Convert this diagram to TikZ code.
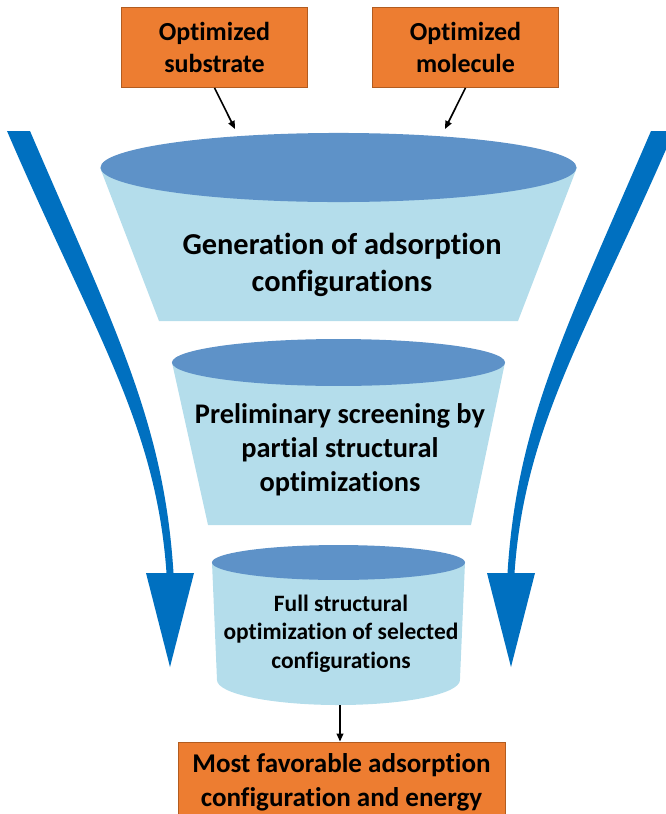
\documentclass[tikz,border=0pt]{standalone}
\usepackage{fontspec}
\setmainfont{Carlito}[Ligatures=NoCommon]
\usetikzlibrary{arrows.meta, calc, positioning}
\definecolor{inorange}{RGB}{237,125,49}
\definecolor{inorangeedge}{RGB}{178,92,32}
\definecolor{lidblue}{RGB}{94,146,200}
\definecolor{bodyblue}{RGB}{180,221,235}
\definecolor{flowblue}{RGB}{0,112,192}
\tikzset{
  >=Triangle,
  feed/.style={->, line width=1.2pt, black,
               shorten >=0pt, >={Triangle[length=6pt, width=5pt]}},
  obox/.style={fill=inorange, draw=inorangeedge, line width=0.6pt,
               align=center, inner sep=0pt, font=\bfseries},
  stagetext/.style={align=center, inner sep=0pt, font=\bfseries},
  flowarrow/.pic={
    % tapered shaft, then the wide head
    \fill[flowblue] (7,131) .. controls (93,331) and (156,423) .. (166.5,573)
      -- (173.5,573) .. controls (164,423) and (116,331) .. (30,131) -- cycle;
    \fill[flowblue] (146,573) -- (194,573) -- (170,667) -- cycle;
  },
}

\begin{document}
\begin{tikzpicture}[x=0.75pt, y=-0.75pt]
  \useasboundingbox (0,0) rectangle (665,814);

  % ---- Side flow arrows ----
  \pic at (0,0) {flowarrow};
  \pic[xscale=-1] at (681,0) {flowarrow};

  % ---- Inputs ----
  \node[obox, minimum width=139.5pt, minimum height=60pt,
        font=\bfseries\fontsize{19.5}{24}\selectfont]
    (sub) at (214.5,47.5) {Optimized\\substrate};
  \node[obox, minimum width=139.5pt, minimum height=60pt,
        font=\bfseries\fontsize{19.5}{24}\selectfont]
    (mol) at (465.5,47.5) {Optimized\\molecule};

  % ---- Stage 1: wide funnel ----
  \fill[bodyblue] (100,167.5) -- (159,321) -- (518,321) -- (577,167.5) -- cycle;
  \fill[lidblue] (338.5,167.5) ellipse [x radius=178.5pt, y radius=25.9pt];
  \coordinate (genL) at (235,129);
  \coordinate (genR) at (445,129);
  \node[stagetext, font=\bfseries\fontsize{22.8}{27.75}\selectfont]
    (gen) at (342,265) {Generation of adsorption\\configurations};

  % ---- Stage 2: narrower funnel ----
  \fill[bodyblue] (172,362.5) -- (208,525) -- (471,525) -- (505,362.5) -- cycle;
  \fill[lidblue] (338.5,362.5) ellipse [x radius=124.9pt, y radius=17.6pt];
  \node[stagetext, font=\bfseries\fontsize{21.3}{25.5}\selectfont]
    (screen) at (340,450) {Preliminary screening by\\partial structural\\optimizations};

  % ---- Stage 3: cylinder ----
  \fill[bodyblue] (212,562.5) -- (217,680)
    arc[start angle=180, end angle=360, x radius=91.1pt, y radius=18.75pt]
    -- (465,562.5) -- cycle;
  \fill[lidblue] (338.5,562.5) ellipse [x radius=94.9pt, y radius=13.1pt];
  \coordinate (fullout) at (340,705);
  \node[stagetext, font=\bfseries\fontsize{17.6}{21.4}\selectfont]
    (full) at (341,633.5) {Full structural\\optimization of selected\\configurations};

  % ---- Result ----
  \node[obox, minimum width=245.25pt, minimum height=60pt,
        font=\bfseries\fontsize{20.3}{25.5}\selectfont]
    (best) at (341.5,782) {Most favorable adsorption\\configuration and energy};

  % ---- Feed arrows ----
  \draw[feed] (sub.south) -- (genL);
  \draw[feed] (mol.south) -- (genR);
  \draw[feed] (fullout) -- (fullout |- best.north);

\end{tikzpicture}
\end{document}
